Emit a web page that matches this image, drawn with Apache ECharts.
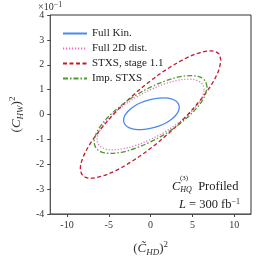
<!DOCTYPE html>
<html><head><meta charset="utf-8">
<script src="https://cdn.jsdelivr.net/npm/echarts@6/dist/echarts.min.js"></script>
<style>html,body{margin:0;padding:0;background:#fff}#c{width:262px;height:262px}</style>
</head><body><div id="c"></div>
<script>
const seriesNames = ['Full Kin.', 'Full 2D dist.', 'STXS, stage 1.1', 'Imp. STXS'];
const xTicks = [-10, -5, 0, 5, 10];
const yTicks = [-4, -3, -2, -1, 0, 1, 2, 3, 4];
// contour points: [x, y (×1e-1)]
const fullKin = [[3.43,0.29],[3.32,0.43],[2.98,0.55],[2.46,0.63],[1.77,0.67],[0.96,0.66],[0.10,0.61],[-0.76,0.53],[-1.57,0.41],[-2.26,0.26],[-2.78,0.10],[-3.12,-0.07],[-3.23,-0.23],[-3.12,-0.37],[-2.78,-0.49],[-2.26,-0.57],[-1.57,-0.61],[-0.76,-0.60],[0.10,-0.55],[0.96,-0.47],[1.77,-0.35],[2.46,-0.20],[2.98,-0.04],[3.32,0.13],[3.43,0.29]];
const full2D = [[6.40,1.00],[6.18,1.23],[5.54,1.37],[4.53,1.42],[3.20,1.37],[1.66,1.23],[0,1.00],[-1.66,0.71],[-3.20,0.37],[-4.53,0],[-5.54,-0.37],[-6.18,-0.71],[-6.40,-1.00],[-6.18,-1.23],[-5.54,-1.37],[-4.53,-1.42],[-3.20,-1.37],[-1.66,-1.23],[0,-1.00],[1.66,-0.71],[3.20,-0.37],[4.53,0],[5.54,0.37],[6.18,0.71],[6.40,1.00]];
const stxs = [[8.40,2.17],[8.11,2.45],[7.27,2.56],[5.94,2.49],[4.20,2.26],[2.17,1.87],[0,1.36],[-2.17,0.75],[-4.20,0.09],[-5.94,-0.58],[-7.27,-1.20],[-8.11,-1.75],[-8.40,-2.17],[-8.11,-2.45],[-7.27,-2.56],[-5.94,-2.49],[-4.20,-2.26],[-2.17,-1.87],[0,-1.36],[2.17,-0.75],[4.20,-0.09],[5.94,0.58],[7.27,1.20],[8.11,1.75],[8.40,2.17]];
const impStxs = [[6.75,1.10],[6.52,1.35],[5.85,1.51],[4.77,1.56],[3.38,1.51],[1.75,1.35],[0,1.10],[-1.75,0.78],[-3.38,0.40],[-4.77,0],[-5.85,-0.40],[-6.52,-0.78],[-6.75,-1.10],[-6.52,-1.35],[-5.85,-1.51],[-4.77,-1.56],[-3.38,-1.51],[-1.75,-1.35],[0,-1.10],[1.75,-0.78],[3.38,-0.40],[4.77,0],[5.85,0.40],[6.52,0.78],[6.75,1.10]];

const serif = "'Liberation Serif', 'DejaVu Serif', serif";
const colors = ['#4a88ee', '#e86cc8', '#c4182e', '#4c9a2a'];
const lineTypes = ['solid', [1.2, 1.8], [4, 2.5], [5, 2, 1.5, 2]];
const dataSets = [fullKin, full2D, stxs, impStxs];

const chart = echarts.init(document.getElementById('c'), null, {renderer: 'canvas'});
const axisRich = {
  p: {fontFamily: serif, fontSize: 13, color: '#333'},
  c: {fontFamily: serif, fontSize: 13, fontStyle: 'italic', color: '#333'},
  s: {fontFamily: serif, fontSize: 9, fontStyle: 'italic', color: '#333', verticalAlign: 'bottom', padding: [6, 0, 0, 0]},
  sup: {fontFamily: serif, fontSize: 9, color: '#333', verticalAlign: 'top', padding: [0, 0, 8, 0]}
};
const option = {
  animation: false,
  grid: {left: 47, top: 15, right: 11, bottom: 42, show: true, borderColor: '#333', borderWidth: 1, backgroundColor: 'transparent'},
  legend: {
    left: 57, top: 23, orient: 'vertical', itemWidth: 24, itemHeight: 8, itemGap: 4,
    itemStyle: {opacity: 0},
    textStyle: {fontFamily: serif, fontSize: 11, color: '#222'},
    data: seriesNames
  },
  xAxis: {
    type: 'value', min: -12, max: 12,
    axisLine: {show: true, onZero: false, lineStyle: {color: '#555', width: 1}}, splitLine: {show: false},
    axisTick: {show: true, length: 3, lineStyle: {color: '#444'}, customValues: xTicks},
    axisLabel: {fontFamily: serif, fontSize: 10, color: '#333', margin: 6, customValues: xTicks},
    name: '{p|(}{c|C̃}{s|HD}{p|)}{sup|2}', nameLocation: 'middle', nameGap: 26,
    nameTextStyle: {rich: axisRich}
  },
  yAxis: {
    type: 'value', min: -4, max: 4,
    axisLine: {show: true, onZero: false, lineStyle: {color: '#555', width: 1}}, splitLine: {show: false},
    axisTick: {show: true, length: 3, lineStyle: {color: '#444'}, customValues: yTicks},
    axisLabel: {fontFamily: serif, fontSize: 10, color: '#333', margin: 6, customValues: yTicks},
    name: '{p|(}{c|C}{s|HW}{p|)}{sup|2}', nameLocation: 'middle', nameGap: 22, nameRotate: 90,
    nameTextStyle: {rich: axisRich}
  },
  graphic: [
    {type: 'text', left: 38, top: 1, style: {text: '×10{e|−1}', fontFamily: serif, fontSize: 10, fill: '#333',
      rich: {e: {fontFamily: serif, fontSize: 8, fill: '#333', verticalAlign: 'top', padding: [0, 0, 5, 0]}}}},
    {type: 'text', left: 172, top: 180, style: {text: '{c|C}{s|HQ}{p|  Profiled}', rich: {
      c: {fontFamily: serif, fontSize: 12.5, fontStyle: 'italic', fill: '#222'},
      s: {fontFamily: serif, fontSize: 8, fontStyle: 'italic', fill: '#222', verticalAlign: 'bottom', padding: [6, 0, 0, 0]},
      p: {fontFamily: serif, fontSize: 12.5, fill: '#222'}}}},
    {type: 'text', left: 180, top: 175, style: {text: '(3)', fontFamily: serif, fontSize: 7, fill: '#222'}},
    {type: 'text', right: 22, top: 198, style: {text: '{c|L}{p| = 300 fb}{e|−1}', rich: {
      c: {fontFamily: serif, fontSize: 12.5, fontStyle: 'italic', fill: '#222'},
      p: {fontFamily: serif, fontSize: 12.5, fill: '#222'},
      e: {fontFamily: serif, fontSize: 8, fill: '#222', verticalAlign: 'top', padding: [0, 0, 6, 0]}}}}
  ],
  series: seriesNames.map((n, i) => ({
    name: n, type: 'line', data: dataSets[i], smooth: 0.35, symbol: 'none',
    lineStyle: {color: colors[i], width: 1.3, type: lineTypes[i]},
    itemStyle: {color: colors[i]}
  }))
};
chart.setOption(option);
</script></body></html>
